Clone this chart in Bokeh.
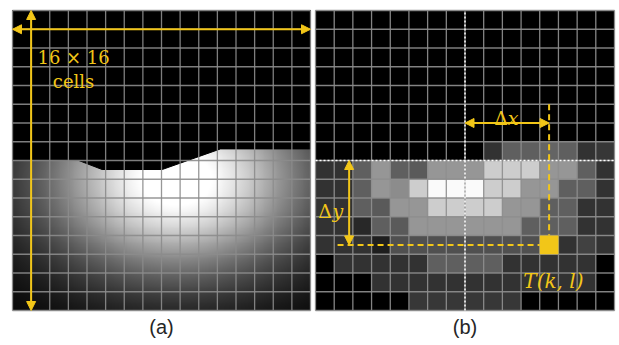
import numpy as np
from bokeh.plotting import figure
from bokeh.models import Range1d, Arrow, NormalHead
from bokeh.layouts import row
from bokeh.core.properties import value
from bokeh.embed import file_html
from bokeh.resources import INLINE

# ---------------- data ----------------
N = 16  # 16 x 16 cells

# panel (a): upper boundary of the lit region (cell units, y measured from bottom)
a_boundary_x = [0.0, 3.56, 4.81, 8.04, 11.17, 16.0]
a_boundary_y = [8.0, 8.0, 7.52, 7.52, 8.62, 8.62]
# light blob (centre and spread, cell units)
a_light_center = (8.8, 7.0)
a_light_spread = (5.0, 3.6)

# panel (b): grey level of every cell, rows listed from the top
b_rows = [
    [0] * 16,
    [0] * 16,
    [0] * 16,
    [0] * 16,
    [0] * 16,
    [0] * 16,
    [0] * 16,
    [0, 0, 0, 0, 0, 0, 0, 0, 0, 50, 95, 95, 100, 95, 50, 55],
    [50, 50, 95, 150, 95, 90, 150, 150, 150, 205, 205, 205, 150, 150, 95, 50],
    [50, 50, 95, 150, 140, 205, 250, 250, 250, 205, 205, 150, 150, 95, 95, 50],
    [50, 50, 95, 90, 150, 150, 205, 205, 205, 205, 150, 150, 95, 95, 50, 50],
    [50, 50, 40, 95, 90, 150, 150, 150, 150, 150, 150, 95, 95, 95, 50, 50],
    [50, 50, 50, 30, 80, 80, 80, 80, 80, 80, 80, 80, 80, 50, 65, 50],
    [0, 50, 50, 50, 50, 50, 95, 95, 95, 95, 50, 50, 50, 50, 50, 0],
    [0, 0, 0, 50, 50, 50, 50, 50, 50, 50, 50, 50, 50, 50, 50, 0],
    [0, 0, 0, 0, 0, 55, 55, 55, 55, 55, 55, 0, 0, 0, 0, 0],
]
center_col = 8          # dotted vertical line (cell boundary)
center_row = 8          # dotted horizontal line (cell boundary, from top)
t_col, t_row = 12, 12   # T(k, l) cell (column, row from top)

YELLOW = "#F2C618"
GRID = "#8c8c8c"
SERIF = "DejaVu Serif"
HEIGHT = 345
TOP_PAD = 10
CELL_H = 18.75


def base_fig(width, px_left, cell_w):
    p = figure(width=width, height=HEIGHT, output_backend="svg", toolbar_location=None,
               x_range=Range1d(-px_left / cell_w, (width - px_left) / cell_w),
               y_range=Range1d(N - (HEIGHT - TOP_PAD) / CELL_H, N + TOP_PAD / CELL_H),
               x_axis_location=None, y_axis_location=None, min_border=0)
    p.grid.visible = False
    p.outline_line_color = None
    p.background_fill_color = "white"
    p.border_fill_color = "white"
    return p


def draw_grid(p):
    g = np.arange(N + 1)
    p.segment(x0=g, y0=0, x1=g, y1=N, line_color=GRID, line_width=1.3, line_alpha=0.9)
    p.segment(x0=0, y0=g, x1=N, y1=g, line_color=GRID, line_width=1.3, line_alpha=0.9)


def head():
    return NormalHead(size=9, fill_color=YELLOW, line_color=YELLOW)


# ---------------- panel (a) ----------------
pa = base_fig(313, 12, 18.625)
res = 320
cs = (np.arange(res) + 0.5) / res * N
X, Y = np.meshgrid(cs, cs)
cx, cy = a_light_center
sx, sy = a_light_spread
v = np.clip(1.08 * np.exp(-0.5 * (((X - cx) / sx) ** 2 + ((Y - cy) / sy) ** 2)), 0, 1)
gray = (v * 255).astype(np.uint8)
img = np.empty((res, res), dtype=np.uint32)
view = img.view(dtype=np.uint8).reshape((res, res, 4))
view[..., 0] = gray
view[..., 1] = gray
view[..., 2] = gray
view[..., 3] = 255
pa.image_rgba(image=[img], x=0, y=0, dw=N, dh=N)
pa.patch(x=a_boundary_x + [N, 0], y=a_boundary_y + [N, N], fill_color="black", line_color="black")
draw_grid(pa)
pa.add_layout(Arrow(start=head(), end=head(), x_start=0, y_start=N - 1, x_end=N, y_end=N - 1,
                    line_color=YELLOW, line_width=2))
pa.add_layout(Arrow(start=head(), end=head(), x_start=1, y_start=0, x_end=1, y_end=N,
                    line_color=YELLOW, line_width=2))
pa.text(x=[3.28], y=[13.51], text=["16 × 16"], text_color=YELLOW, text_font=value(SERIF),
        text_font_size="18px", text_align="center", text_baseline="alphabetic")
pa.text(x=[3.28], y=[12.23], text=["cells"], text_color=YELLOW, text_font=value(SERIF),
        text_font_size="18px", text_align="center", text_baseline="alphabetic")
pa.text(x=[8.0], y=[-0.88], text=["(a)"], text_color="#262626", text_font=value("Liberation Sans"),
        text_font_size="20px", text_align="center", text_baseline="middle")

# ---------------- panel (b) ----------------
pb = base_fig(306, 2, 18.6875)
xs, ys, cols = [], [], []
for r, vals in enumerate(b_rows):
    for c, g in enumerate(vals):
        xs.append(c + 0.5)
        ys.append(N - r - 0.5)
        cols.append("#%02x%02x%02x" % (g, g, g))
pb.rect(x=xs, y=ys, width=1, height=1, fill_color=cols, line_color=None)
draw_grid(pb)
# dotted white centre lines
pb.line(x=[center_col, center_col], y=[0, N], line_color="white", line_width=1.5, line_dash="2 2")
pb.line(x=[0, N], y=[N - center_row, N - center_row], line_color="white", line_width=1.5, line_dash="2 2")
# dashed yellow lines to T(k, l)
t_x = t_col + 0.5
t_y = N - t_row - 0.5
pb.line(x=[t_x, t_x], y=[N - 5, N - t_row], line_color=YELLOW, line_width=2, line_dash="6 4")
pb.line(x=[1.18, t_col], y=[t_y, t_y], line_color=YELLOW, line_width=2, line_dash="6 4")
# T(k, l) cell
pb.rect(x=[t_x], y=[t_y], width=1, height=1, fill_color=YELLOW, line_color=None)
# arrows
pb.add_layout(Arrow(start=head(), end=head(), x_start=center_col, y_start=N - 6, x_end=t_x, y_end=N - 6,
                    line_color=YELLOW, line_width=2))
pb.add_layout(Arrow(start=head(), end=head(), x_start=1.8, y_start=N - center_row, x_end=1.8, y_end=t_y,
                    line_color=YELLOW, line_width=2))
# labels
pb.text(x=[9.93], y=[10.29], text=["Δ"], text_color=YELLOW, text_font=value(SERIF),
        text_font_size="19px", text_align="center", text_baseline="alphabetic")
pb.text(x=[10.58], y=[10.29], text=["x"], text_color=YELLOW, text_font=value(SERIF),
        text_font_style="italic", text_font_size="19px", text_align="center", text_baseline="alphabetic")
pb.text(x=[0.51], y=[5.33], text=["Δ"], text_color=YELLOW, text_font=value(SERIF),
        text_font_size="19px", text_align="center", text_baseline="alphabetic")
pb.text(x=[1.2], y=[5.33], text=["y"], text_color=YELLOW, text_font=value(SERIF),
        text_font_style="italic", text_font_size="19px", text_align="center", text_baseline="alphabetic")
pb.text(x=[12.73], y=[1.6], text=["T(k, l)"], text_color=YELLOW, text_font=value(SERIF),
        text_font_style="italic", text_font_size="20px", text_align="center", text_baseline="alphabetic")
pb.text(x=[8.0], y=[-0.88], text=["(b)"], text_color="#262626", text_font=value("Liberation Sans"),
        text_font_size="20px", text_align="center", text_baseline="middle")

layout = row(pa, pb)
open("out.html", "w").write(file_html(layout, INLINE))
